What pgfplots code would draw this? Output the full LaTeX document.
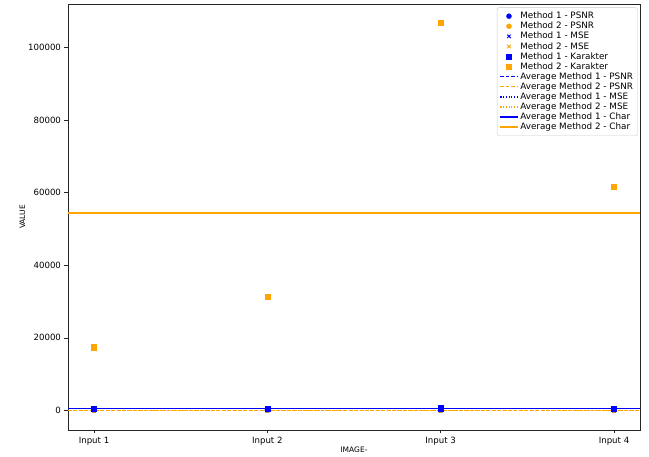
\documentclass[border=0pt]{standalone}
\usepackage{pgfplots}
\pgfplotsset{compat=1.18}
\usepackage{fontspec}
\setmainfont{DejaVu Sans}
\definecolor{mblue}{rgb}{0,0,1}
\definecolor{morange}{rgb}{1,0.647,0}
\definecolor{lgray}{rgb}{0.8,0.8,0.8}
\definecolor{dgray}{rgb}{0.15,0.15,0.15}
\begin{document}
\begin{tikzpicture}[x=1pt,y=1pt]
\begin{axis}[
  at={(0,0)}, anchor=south west,
  scale only axis, width=572pt, height=426pt,
  xmin=-0.15, xmax=3.15, ymin=-5400, ymax=112000,
  xtick={0,1,2,3}, xticklabels={Input 1,Input 2,Input 3,Input 4},
  ytick={0,20000,40000,60000,80000,100000},
  scaled y ticks=false,
  yticklabel style={/pgf/number format/fixed,/pgf/number format/1000 sep={}},
  /pgf/number format/assume math mode=true,
  tick style={dgray, line width=0.5pt},
  tick align=outside, tick pos=left,
  major tick length=3.5pt,
  ticklabel style={font=\fontsize{8.6}{9}\selectfont},
  xlabel={IMAGE-}, ylabel={VALUE},
  label style={font=\fontsize{7.5}{8}\selectfont},
  xlabel style={yshift=5pt},
  ylabel style={yshift=-4pt},
  axis line style={line width=0.6pt, draw=dgray},
  legend style={at={(rel axis cs:0.996,0.992)}, anchor=north east,
    font=\fontsize{8.8}{8.8}\selectfont, draw=lgray, rounded corners=1.5pt,
    row sep=-2.1pt, inner sep=2.5pt},
  legend cell align=left,
]
\addplot[only marks, mark=*, mark size=2.5pt, color=mblue, mark options={draw=mblue, fill=mblue}] coordinates {(0,35) (1,36) (2,34) (3,37)};
\addlegendentry{Method 1 - PSNR}
\addplot[only marks, mark=*, mark size=2.5pt, color=morange, mark options={draw=morange, fill=morange}] coordinates {(0,41) (1,42) (2,40) (3,43)};
\addlegendentry{Method 2 - PSNR}
\addplot[only marks, mark=x, mark size=2.5pt, color=mblue, line width=0.9pt] coordinates {(0,15) (1,12) (2,18) (3,10)};
\addlegendentry{Method 1 - MSE}
\addplot[only marks, mark=x, mark size=2.5pt, color=morange, line width=0.9pt] coordinates {(0,5) (1,4) (2,6) (3,3)};
\addlegendentry{Method 2 - MSE}
\addplot[only marks, mark=square*, mark size=2.6pt, color=mblue, mark options={draw=mblue, fill=mblue}] coordinates {(0,400) (1,500) (2,600) (3,450)};
\addlegendentry{Method 1 - Karakter}
\addplot[only marks, mark=square*, mark size=2.6pt, color=morange, mark options={draw=morange, fill=morange}] coordinates {(0,17400) (1,31400) (2,106900) (3,61700)};
\addlegendentry{Method 2 - Karakter}
\addplot[color=mblue, dash pattern=on 3.5pt off 2pt, line width=1.3pt] coordinates {(-0.15,35.5) (3.15,35.5)};
\addlegendentry{Average Method 1 - PSNR}
\addplot[color=morange, dash pattern=on 3.5pt off 2pt, line width=1.3pt] coordinates {(-0.15,41.5) (3.15,41.5)};
\addlegendentry{Average Method 2 - PSNR}
\addplot[color=mblue, dash pattern=on 1.2pt off 1.5pt, line width=1.3pt] coordinates {(-0.15,13.75) (3.15,13.75)};
\addlegendentry{Average Method 1 - MSE}
\addplot[color=morange, dash pattern=on 1.2pt off 1.5pt, line width=1.3pt] coordinates {(-0.15,4.5) (3.15,4.5)};
\addlegendentry{Average Method 2 - MSE}
\addplot[color=mblue, line width=1.5pt] coordinates {(-0.15,487.5) (3.15,487.5)};
\addlegendentry{Average Method 1 - Char}
\addplot[color=morange, draw=morange, line width=1.6pt] coordinates {(-0.15,54350) (3.15,54350)};
\addlegendentry{Average Method 2 - Char}
\end{axis}
\path (-68pt,-22pt) rectangle (581pt,430pt);
\end{tikzpicture}
\end{document}
